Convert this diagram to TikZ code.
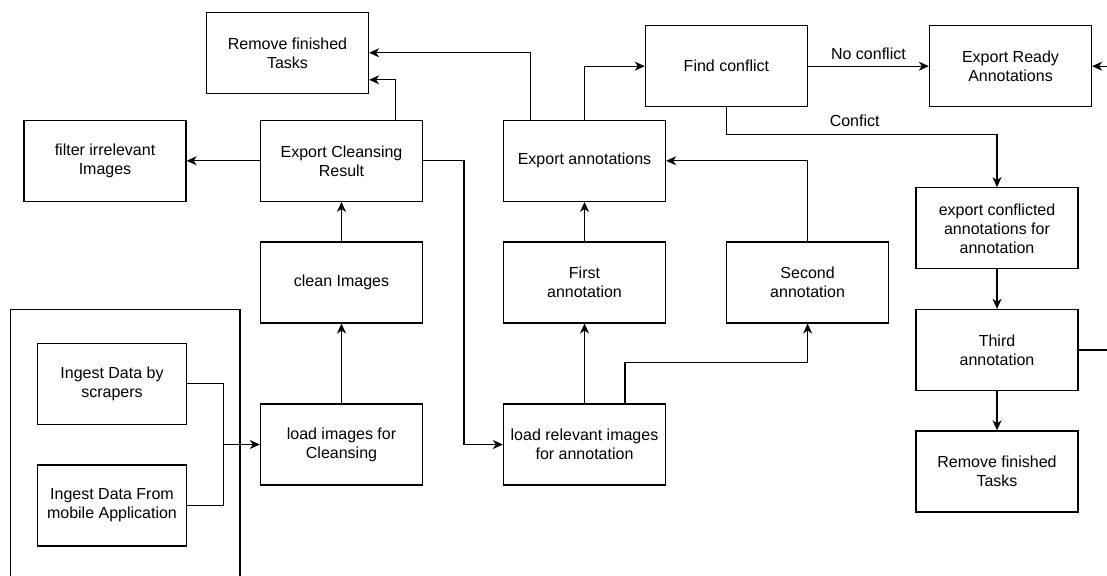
\documentclass[tikz,border=0pt]{standalone}
\usepackage{fontspec}
\setmainfont{Liberation Sans}
\usetikzlibrary{arrows.meta}
\begin{document}
\begin{tikzpicture}[x=1pt, y=-1pt,
  every node/.style={font=\fontsize{16}{19}\selectfont},
  box/.style={draw, line width=1.3pt, minimum width=162pt, minimum height=81pt,
              align=center, inner sep=2pt},
  narrow/.style={box, minimum width=149pt},
  link/.style={line width=1.3pt},
  arr/.style={link, -{Stealth[length=10pt, width=9pt, inset=3pt]}},
  lbl/.style={anchor=base, inner sep=0pt}]
\useasboundingbox (0,0) rectangle (1107,575);

% data source group (open at the bottom edge)
\draw[link] (10.4,600) |- (240,309.7) -- (240,600);

% boxes
\node[box] (rmTop)  at (287.5,52.8)  {Remove finished\\Tasks};
\node[box] (filter) at (105,160.8)   {filter irrelevant\\Images};
\node[box] (ecr)    at (341.5,160.8) {Export Cleansing\\Result};
\node[box] (clean)  at (341.5,282.4) {clean Images};
\node[box] (loadc)  at (341.5,444.5) {load images for\\Cleansing};
\node[narrow] (scr) at (112,383.7)   {Ingest Data by\\scrapers};
\node[narrow] (mob) at (112,505.4)   {Ingest Data From\\mobile Application};

\node[box] (expA)   at (584.5,160.8) {Export annotations};
\node[box] (first)  at (584.5,282.4) {First\\annotation};
\node[box] (loadr)  at (584.5,444.5) {load relevant images\\for annotation};
\node[box] (second) at (807.6,282.4) {Second\\annotation};

\node[box] (find)   at (726.4,66.2)  {Find conflict};
\node[box] (era)    at (1010.5,66.2) {Export Ready\\Annotations};
\node[box] (exC)    at (997,228.3)   {export conflicted\\annotations for\\annotation};
\node[box] (third)  at (997,350)     {Third\\annotation};
\node[box] (rmB)    at (997,471.5)   {Remove finished\\Tasks};

% ingestion merges into the cleansing loader
\coordinate (j) at (223.2,444.5);
\draw[link] (scr.east) -| (j);
\draw[link] (mob.east) -| (j);
\draw[arr] (j) -- (loadc.west);

% cleansing chain
\draw[arr] (loadc.north) -- (clean.south);
\draw[arr] (clean.north) -- (ecr.south);
\draw[arr] (ecr.west) -- (filter.east);
\draw[arr] ([xshift=54pt]ecr.north) |- ([yshift=-27pt]rmTop.east);
\draw[arr] (ecr.east) -- ++(40.7,0) |- (loadr.west);

% annotation chain
\draw[arr] (loadr.north) -- (first.south);
\draw[arr] ([xshift=40.5pt]loadr.north) -- ++(0,-40.7) -| (second.south);
\draw[arr] (first.north) -- (expA.south);
\draw[arr] (second.north) |- (expA.east);
\draw[arr] ([xshift=-54pt]expA.north) |- (rmTop.east);
\draw[arr] (expA.north) |- (find.west);

% conflict resolution
\draw[arr] (find.east) -- node[lbl, yshift=7pt] {No conflict} (era.west);
\draw[arr] (find.south) -- ++(0,27.3) -| node[lbl, pos=.237, yshift=8pt] {Confict} (exC.north);
\draw[arr] (exC.south) -- (third.north);
\draw[arr] (third.south) -- (rmB.north);
\draw[arr] (third.east) -- ++(45,0) |- (era.east);
\end{tikzpicture}
\end{document}
